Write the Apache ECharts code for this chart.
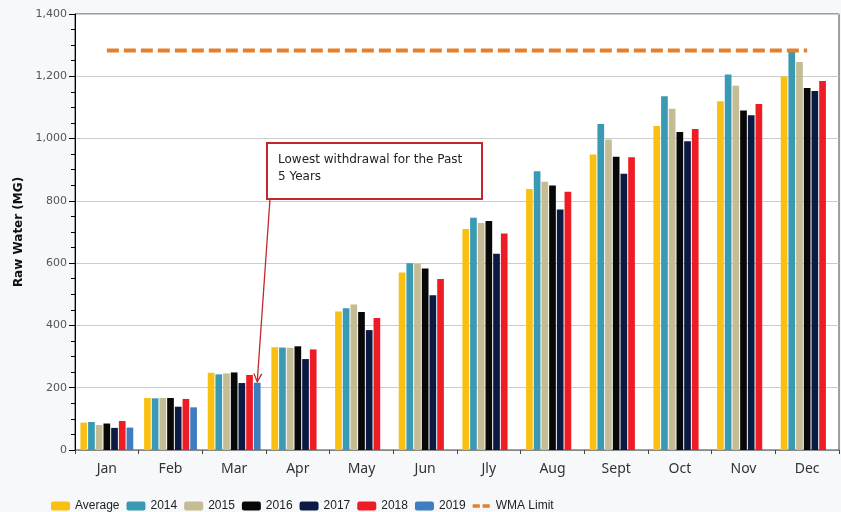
<!DOCTYPE html>
<html>
<head>
    <meta charset="utf-8">
    <title>Raw Water</title>
    <script src="https://cdn.jsdelivr.net/npm/echarts@6/dist/echarts.min.js"></script>
    <style>
        html, body { margin: 0; padding: 0; background: #F6F8FA; }
    </style>
</head>
<body>
    <div id="main" style="width:841px;height:512px;"></div>
<script>
var months = ['Jan', 'Feb', 'Mar', 'Apr', 'May', 'Jun', 'Jly', 'Aug', 'Sept', 'Oct', 'Nov', 'Dec'];

var avgData = [88, 167, 248, 330, 445, 570, 710, 838, 949, 1040, 1120, 1199];
var y2014 = [90, 166, 243, 329, 455, 600, 746, 895, 1047, 1136, 1206, 1284];
var y2015 = [80, 167, 246, 328, 467, 598, 729, 861, 997, 1096, 1170, 1246];
var y2016 = [85, 167, 249, 333, 443, 583, 735, 849, 942, 1021, 1090, 1162];
var y2017 = [71, 139, 215, 292, 385, 497, 630, 772, 887, 991, 1075, 1153];
var y2018 = [93, 164, 241, 323, 424, 549, 695, 829, 940, 1031, 1111, 1185];
var y2019 = [72, 137, 216, null, null, null, null, null, null, null, null, null];
var wmaLimit = [1283, 1283, 1283, 1283, 1283, 1283, 1283, 1283, 1283, 1283, 1283, 1283];

var seriesNames = ['Average', '2014', '2015', '2016', '2017', '2018', '2019'];
var seriesData = [avgData, y2014, y2015, y2016, y2017, y2018, y2019];
var colors = ['#F9C013', '#3A9AB4', '#C4BC94', '#080808', '#0B1A42', '#EE1C25', '#3F7CC0'];
var limitColor = '#E2802F';

var myChart = echarts.init(document.getElementById('main'));

var series = [];
for (var i = 0; i < seriesNames.length; i++) {
    series.push({
        name: seriesNames[i],
        type: 'bar',
        data: seriesData[i],
        barGap: '15%',
        barCategoryGap: '17%',
        itemStyle: { color: colors[i] }
    });
}
series.push({
    name: 'WMA Limit',
    type: 'line',
    data: wmaLimit,
    symbol: 'none',
    lineStyle: { color: limitColor, width: 4, type: [12, 5] },
    itemStyle: { color: limitColor },
    z: 5
});

// legend entries, the limit one gets a two-dash icon
var legendData = seriesNames.slice();
legendData.push({
    name: 'WMA Limit',
    icon: 'path://M0,0 L0.01,0 L0.01,10 L0,10 Z M0,3 L8,3 L8,7 L0,7 Z M11,3 L19,3 L19,7 L11,7 Z',
    itemStyle: { color: limitColor }
});

var option = {
    backgroundColor: '#F6F8FA',
    animation: false,
    grid: {
        left: 75, right: 2, top: 14, bottom: 62,
        show: true,
        backgroundColor: '#ffffff',
        borderColor: '#444',
        borderWidth: 1
    },
    legend: {
        left: 46,
        top: 495,
        itemWidth: 19,
        itemHeight: 9,
        itemGap: 7,
        textStyle: { fontFamily: 'Liberation Sans', fontSize: 12, color: '#222' },
        data: legendData
    },
    xAxis: {
        type: 'category',
        data: months,
        axisLine: { lineStyle: { color: '#888', width: 1 } },
        axisTick: { show: true, length: 4, lineStyle: { color: '#444' } },
        axisLabel: { fontFamily: 'Noto Sans', fontSize: 14, color: '#333', margin: 12 }
    },
    yAxis: {
        type: 'value',
        min: 0,
        max: 1400,
        interval: 200,
        name: 'Raw Water (MG)',
        nameLocation: 'middle',
        nameGap: 50,
        nameTextStyle: { fontFamily: 'DejaVu Sans', fontSize: 12, fontWeight: 'bold', color: '#111' },
        axisLine: { show: true, lineStyle: { color: '#000', width: 1 } },
        axisTick: { show: true, length: 6, lineStyle: { color: '#000' } },
        minorTick: { show: true, splitNumber: 4, length: 4, lineStyle: { color: '#000' } },
        splitLine: { lineStyle: { color: '#CCCCCC', width: 1 } },
        axisLabel: {
            fontFamily: 'DejaVu Sans', fontSize: 11, color: '#555', margin: 8,
            formatter: function (v) { return v.toLocaleString('en-US'); }
        }
    },
    series: series
};

myChart.setOption(option);

// annotation box + arrow pointing at the Mar 2019 bar
var lay = myChart.getModel().getSeriesByIndex(6).getData().getItemLayout(2);
var tipX = lay.x + lay.width / 2;
var tipY = Math.min(lay.y, lay.y + lay.height) - 1;
var sx = 270, sy = 199;
var ang = Math.atan2(tipY - sy, tipX - sx);
var hl = 9, hw = 0.45;
var h1 = [tipX - hl * Math.cos(ang - hw), tipY - hl * Math.sin(ang - hw)];
var h2 = [tipX - hl * Math.cos(ang + hw), tipY - hl * Math.sin(ang + hw)];

myChart.setOption({
    graphic: [
        {
            type: 'rect',
            shape: { x: 267, y: 143, width: 215, height: 56 },
            style: { fill: '#ffffff', stroke: '#C1272D', lineWidth: 2 },
            z: 10
        },
        {
            type: 'text',
            x: 278, y: 151,
            style: {
                text: 'Lowest withdrawal for the Past\n5 Years',
                fontFamily: 'DejaVu Sans',
                fontSize: 12,
                lineHeight: 17,
                fill: '#222'
            },
            z: 11
        },
        {
            type: 'line',
            shape: { x1: sx, y1: sy, x2: tipX, y2: tipY },
            style: { stroke: '#C1272D', lineWidth: 1.3 },
            z: 10
        },
        {
            type: 'polyline',
            shape: { points: [h1, [tipX, tipY], h2] },
            style: { stroke: '#C1272D', lineWidth: 1.3, fill: null },
            z: 10
        }
    ]
});
</script>
</body>
</html>
